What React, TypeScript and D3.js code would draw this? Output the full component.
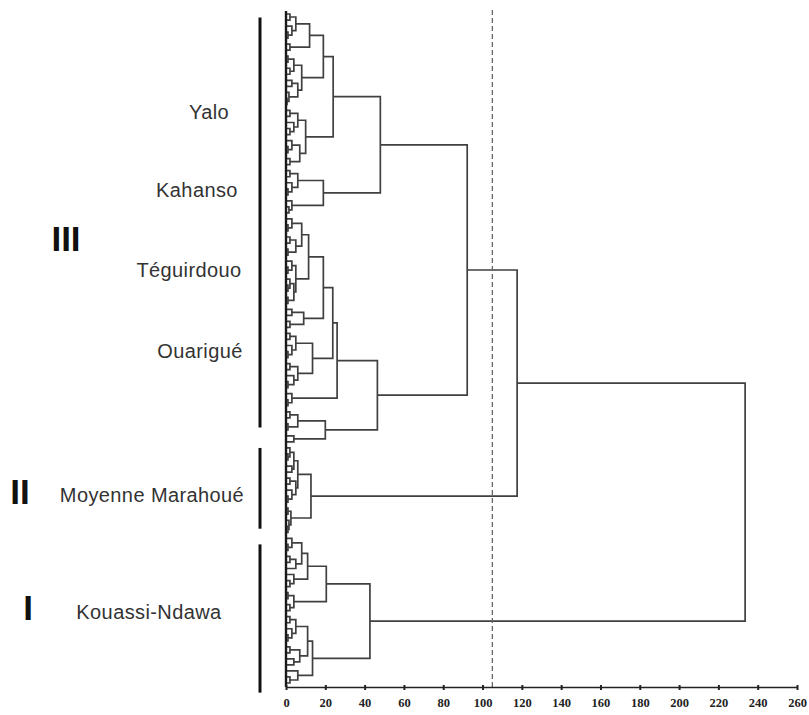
import React, { useRef, useEffect } from 'react';
import * as d3 from 'd3';

// dendrogram, nodes are [height, left, right], a leaf is 0
const yaloKahanso = [48,
  [24,
    [19,
      [12, [5, [2, 0, 0], [3, 0, [1, 0, 0]]], [2, 0, 0]],
      [8, [4, [1, 0, 0], [2, 0, 0]], [6, [3, 0, 0], [1.5, 0, [0.5, 0, 0]]]]],
    [10, [6, [2, 0, 0], [4, 0, [2, 0, 0]]], [7, [3, 0, [1, 0, 0]], [2, 0, 0]]]],
  [19, [6, [2, 0, 0], [3, 0, [1, 0, 0]]], [3, 0, [1.5, 0, 0]]]];

const teguirdouoOuarigue = [46.5,
  [26,
    [23.8,
      [19,
        [11.5,
          [8, [3, 0, [1, 0, 0]], [5, [2, 0, 0], [1, 0, 0]]],
          [5, [3, 0, [1, 0, 0]], [4, [2, 0, [1, 0, 0]], [1, 0, 0]]]],
        [9, [3, 0, 0], [2, 0, 0]]],
      [13.5, [5, [2, 0, 0], [3, 0, [1, 0, 0]]], [6, [2, 0, 0], [4, 0, [1, 0, 0]]]]],
    [3, 0, [1, 0, 0]]],
  [20, [6, [2, 0, 0], [1, 0, 0]], [4, 0, 0]]];

const moyenneMarahoue = [12.7,
  [6, [4, [2, 0, [1, 0, 0]], [3, 0, 0]], [5, [2, 0, 0], [3, 0, [1, 0, 0]]]],
  [2.5, [1, 0, 0], [1.5, 0, [1, 0, 0]]]];

const kouassiNdawa = [42.7,
  [20.5,
    [11, [8, [3, 0, [1, 0, 0]], [5, [2, 0, 0], 0]], [4, 0, [2, 0, 0]]],
    [4, [1, 0, 0], [2, 0, 0]]],
  [13.5,
    [11, [5, [2, 0, 0], [3, 0, [1, 0, 0]]], [7, [2, 0, 0], [4, 0, 0]]],
    [6, 0, [2, 0, 0]]]];

const groupIIIHeight = 92.2;
const groupIIandIIIHeight = 117.6;
const rootHeight = 233.6;
const cutHeight = 105;

const xTicks = d3.range(0, 261, 20);

// groups: numeral, leaf range covered by the bar
const groupNumerals = ['III', 'II', 'I'];
const groupLeafRanges = [[0.6, 68.6], [72, 85.4], [88, 112.6]];

const populations = ['Yalo', 'Kahanso', 'Téguirdouo', 'Ouarigué', 'Moyenne Marahoué', 'Kouassi-Ndawa'];

const Dendrogram = () => {
  const svgRef = useRef(null);

  useEffect(() => {
    const svg = d3.select(svgRef.current);
    svg.selectAll('*').remove();

    const tree = [rootHeight, [groupIIandIIIHeight, [groupIIIHeight, yaloKahanso, teguirdouoOuarigue], moyenneMarahoue], kouassiNdawa];
    const root = d3.hierarchy(tree, d => Array.isArray(d) ? d.slice(1) : null);
    const leaves = root.leaves();

    const xScale = d3.scaleLinear().domain([0, 260]).range([286, 797]);
    const yScale = d3.scaleLinear().domain([0, leaves.length - 1]).range([14, 683]);

    leaves.forEach((l, i) => { l.pos = i; });
    root.eachAfter(n => {
      n.h = Array.isArray(n.data) ? n.data[0] : 0;
      if (n.children) n.pos = d3.mean(n.children, c => c.pos);
    });

    const stroke = '#404040';
    const g = svg.append('g');

    // elbows
    root.each(n => {
      if (!n.children) return;
      const [a, b] = n.children;
      g.append('path')
        .attr('fill', 'none')
        .attr('stroke', stroke)
        .attr('stroke-width', 1.7)
        .attr('d', `M${xScale(a.h)},${yScale(a.pos)}H${xScale(n.h)}V${yScale(b.pos)}H${xScale(b.h)}`);
    });

    // leaf base line
    g.append('line')
      .attr('x1', xScale(0)).attr('x2', xScale(0))
      .attr('y1', yScale(0) - 3).attr('y2', 687)
      .attr('stroke', '#1a1a1a')
      .attr('stroke-width', 2.4);

    // cut line
    g.append('line')
      .attr('x1', xScale(cutHeight)).attr('x2', xScale(cutHeight))
      .attr('y1', 10).attr('y2', 690)
      .attr('stroke', '#666')
      .attr('stroke-width', 1.3)
      .attr('stroke-dasharray', '5,3');

    // axis
    const axis = svg.append('g')
      .attr('transform', 'translate(0,687)')
      .call(d3.axisBottom(xScale).tickValues(xTicks).tickSize(3).tickSizeOuter(0).tickPadding(8));
    axis.select('.domain').attr('stroke', '#222').attr('stroke-width', 1.6);
    axis.selectAll('.tick line').attr('stroke', '#222').attr('stroke-width', 2).attr('y1', -2);
    axis.selectAll('.tick text')
      .attr('font-family', '"Liberation Serif", serif')
      .attr('font-weight', 'bold')
      .attr('font-size', 12.5)
      .attr('fill', '#222');

    // group bars and numerals
    const numeralX = [66, 20, 28];
    const numeralPos = [37.2, 79.2, 98.5];
    groupNumerals.forEach((txt, i) => {
      const [a, b] = groupLeafRanges[i];
      svg.append('line')
        .attr('x1', 260).attr('x2', 260)
        .attr('y1', yScale(a)).attr('y2', yScale(b))
        .attr('stroke', '#111')
        .attr('stroke-width', 3);
      svg.append('text')
        .attr('x', numeralX[i])
        .attr('y', yScale(numeralPos[i]))
        .attr('dy', '0.36em')
        .attr('text-anchor', 'middle')
        .attr('font-family', '"Liberation Sans", Arial, sans-serif')
        .attr('font-weight', 'bold')
        .attr('font-size', 35)
        .attr('fill', '#111')
        .text(txt);
    });

    // population labels
    const labelX = [209, 197, 189, 200, 152, 149];
    const labelPos = [16.3, 29.2, 42.5, 55.9, 79.8, 99.2];
    populations.forEach((name, i) => {
      svg.append('text')
        .attr('x', labelX[i])
        .attr('y', yScale(labelPos[i]))
        .attr('dy', '0.35em')
        .attr('text-anchor', 'middle')
        .attr('font-family', '"Liberation Sans", Arial, sans-serif')
        .attr('font-size', 20)
        .attr('letter-spacing', 0.4)
        .attr('fill', '#333')
        .text(name);
    });
  }, []);

  return (
    <svg ref={svgRef} width={809} height={715}
      style={{ position: 'absolute', left: 0, top: 0, display: 'block', background: '#fff' }} />
  );
};

export default function App() {
  return <Dendrogram />;
}
